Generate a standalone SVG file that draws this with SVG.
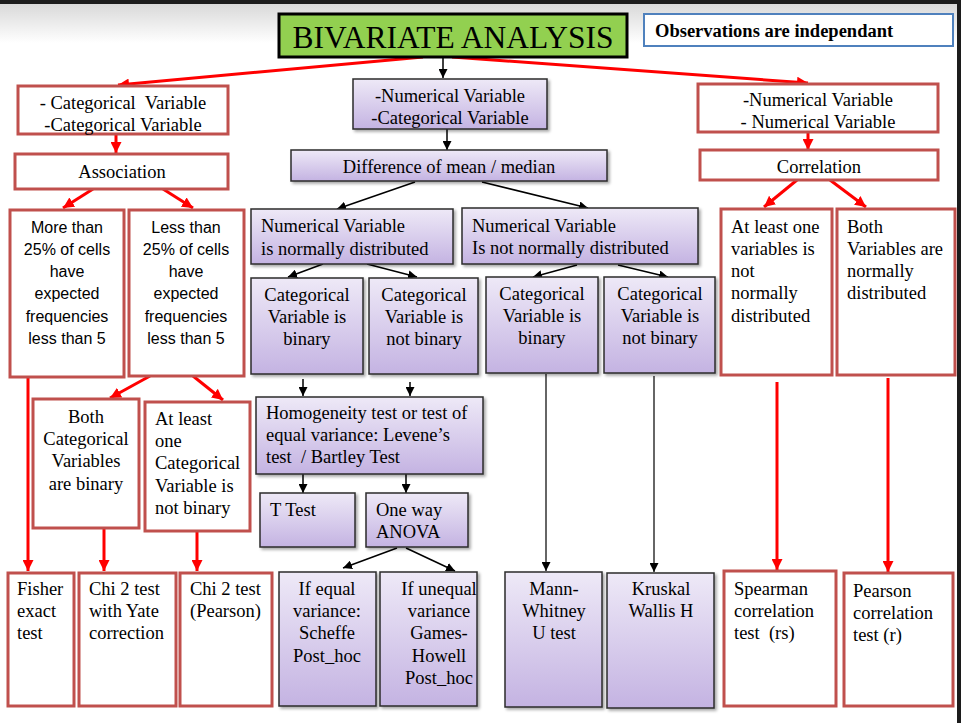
<svg xmlns="http://www.w3.org/2000/svg" width="961" height="723" viewBox="0 0 961 723">
<defs>
<linearGradient id="pg" x1="0" y1="0" x2="0" y2="1">
<stop offset="0" stop-color="#EEE9F7"/>
<stop offset="1" stop-color="#C4B3E2"/>
</linearGradient>
<linearGradient id="bg" x1="0" y1="0" x2="0" y2="1">
<stop offset="0" stop-color="#D8D8D8"/>
<stop offset="1" stop-color="#FFFFFF"/>
</linearGradient>
<filter id="sh" x="-10%" y="-10%" width="130%" height="130%">
<feDropShadow dx="2" dy="2" stdDeviation="1.5" flood-color="#000" flood-opacity="0.35"/>
</filter>
<marker id="rh" viewBox="0 0 10 10" refX="10" refY="5" markerWidth="11" markerHeight="11" markerUnits="userSpaceOnUse" orient="auto">
<path d="M0,0 L10,5 L0,10 z" fill="#FF0000"/>
</marker>
<marker id="bh" viewBox="0 0 10 10" refX="10" refY="5" markerWidth="9" markerHeight="9" markerUnits="userSpaceOnUse" orient="auto">
<path d="M0,0 L10,5 L0,10 z" fill="#000"/>
</marker>
<style>
text{white-space:pre}
.rb{fill:#fff;stroke:#C0504D;stroke-width:3}
.pb{fill:url(#pg);stroke:#2b2b2b;stroke-width:1.5;filter:url(#sh)}
.s{font-family:"Liberation Serif",serif;font-size:18.5px;fill:#000}
.c{font-family:"Liberation Sans",sans-serif;font-size:16px;fill:#000}
.m{text-anchor:middle}
.ra{stroke:#FF0000;stroke-width:3;fill:none;marker-end:url(#rh)}
.ba{stroke:#000;stroke-width:1.5;fill:none;marker-end:url(#bh)}
.ga{stroke:#333;stroke-width:1.5;fill:none;marker-end:url(#bh)}
</style>
</defs>

<rect x="0" y="0" width="961" height="723" fill="#fff"/>
<rect x="0" y="3" width="961" height="40" fill="url(#bg)"/>
<rect x="0" y="0" width="961" height="4" fill="#1c1c1c"/>
<rect x="957" y="0" width="4" height="723" fill="#1c1c1c"/>

<g id="connectors">
<line class="ra" x1="423" y1="57" x2="118" y2="85"/>
<line class="ra" x1="452" y1="57" x2="808" y2="83"/>
<line class="ba" x1="443" y1="57" x2="443" y2="78"/>
<line class="ra" x1="116" y1="135" x2="116" y2="153"/>
<line class="ra" x1="93" y1="189" x2="63" y2="208"/>
<line class="ra" x1="163" y1="189" x2="193" y2="208"/>
<line class="ra" x1="28" y1="377" x2="28" y2="571"/>
<line class="ra" x1="150" y1="376" x2="110" y2="398"/>
<line class="ra" x1="193" y1="376" x2="223" y2="400"/>
<line class="ra" x1="104" y1="529" x2="104" y2="571"/>
<line class="ra" x1="197" y1="532" x2="197" y2="571"/>
<line class="ba" x1="447" y1="129" x2="447" y2="150"/>
<line class="ba" x1="415" y1="182" x2="337" y2="209"/>
<line class="ba" x1="482" y1="182" x2="588" y2="208"/>
<line class="ba" x1="323" y1="264" x2="288" y2="277"/>
<line class="ba" x1="367" y1="264" x2="417" y2="277"/>
<line class="ba" x1="577" y1="265" x2="533" y2="277"/>
<line class="ba" x1="618" y1="265" x2="668" y2="277"/>
<line class="ba" x1="303" y1="379" x2="303" y2="396"/>
<line class="ba" x1="410" y1="382" x2="410" y2="396"/>
<line class="ba" x1="303" y1="474" x2="303" y2="493"/>
<line class="ba" x1="406" y1="474" x2="406" y2="493"/>
<line class="ba" x1="397" y1="548" x2="343" y2="568"/>
<line class="ba" x1="406" y1="548" x2="455" y2="571"/>
<line class="ga" x1="546" y1="374" x2="546" y2="571"/>
<line class="ga" x1="654" y1="376" x2="654" y2="572"/>
<line class="ra" x1="808" y1="133" x2="808" y2="150"/>
<line class="ra" x1="797" y1="180" x2="764" y2="207"/>
<line class="ra" x1="830" y1="180" x2="866" y2="207"/>
<line class="ra" x1="777" y1="382" x2="777" y2="570"/>
<line class="ra" x1="888" y1="378" x2="888" y2="572"/>
</g>

<g id="title">
<rect x="279" y="14" width="348" height="43" fill="#92D050" stroke="#000" stroke-width="3"/>
<text class="m" x="453" y="48" font-family="Liberation Serif, serif" font-size="31.5" fill="#000">BIVARIATE ANALYSIS</text>
</g>
<g id="observations">
<rect x="644" y="14" width="309" height="32" fill="#fff" stroke="#4F81BD" stroke-width="2"/>
<text x="655" y="37" font-family="Liberation Serif, serif" font-size="18.5" font-weight="bold" fill="#000">Observations are independant</text>
</g>

<g id="catcat">
<rect class="rb" x="18" y="86" width="210" height="48"/>
<text class="s m" x="123"><tspan x="123" y="109">- Categorical  Variable</tspan><tspan x="123" y="131">-Categorical Variable</tspan></text>
</g>
<g id="association">
<rect class="rb" x="15" y="154" width="213" height="35"/>
<text class="s m" x="122" y="178">Association</text>
</g>
<g id="more25">
<rect class="rb" x="10" y="210" width="114" height="167"/>
<text class="c m"><tspan x="67" y="233">More than</tspan><tspan x="67" y="255">25% of cells</tspan><tspan x="67" y="277">have</tspan><tspan x="67" y="299">expected</tspan><tspan x="67" y="322">frequencies</tspan><tspan x="67" y="344">less than 5</tspan></text>
</g>
<g id="less25">
<rect class="rb" x="129" y="210" width="115" height="166"/>
<text class="c m"><tspan x="186" y="233">Less than</tspan><tspan x="186" y="255">25% of cells</tspan><tspan x="186" y="277">have</tspan><tspan x="186" y="299">expected</tspan><tspan x="186" y="322">frequencies</tspan><tspan x="186" y="344">less than 5</tspan></text>
</g>
<g id="bothbinary">
<rect class="rb" x="33" y="399" width="106" height="129"/>
<text class="s m"><tspan x="86" y="423">Both</tspan><tspan x="86" y="445">Categorical</tspan><tspan x="86" y="467">Variables</tspan><tspan x="86" y="490">are binary</tspan></text>
</g>
<g id="atleastnotbinary">
<rect class="rb" x="145" y="402" width="105" height="129"/>
<text class="s"><tspan x="155" y="425">At least</tspan><tspan x="155" y="447">one</tspan><tspan x="155" y="469">Categorical</tspan><tspan x="155" y="492">Variable is</tspan><tspan x="155" y="514">not binary</tspan></text>
</g>
<g id="fisher">
<rect class="rb" x="8" y="573" width="66" height="133"/>
<text class="s"><tspan x="17" y="595">Fisher</tspan><tspan x="17" y="617">exact</tspan><tspan x="17" y="639">test</tspan></text>
</g>
<g id="chiyate">
<rect class="rb" x="79" y="573" width="97" height="133"/>
<text class="s"><tspan x="89" y="595">Chi 2 test</tspan><tspan x="89" y="617">with Yate</tspan><tspan x="89" y="639">correction</tspan></text>
</g>
<g id="chipearson">
<rect class="rb" x="180" y="573" width="92" height="133"/>
<text class="s"><tspan x="190" y="595">Chi 2 test</tspan><tspan x="190" y="617">(Pearson)</tspan></text>
</g>

<g id="numcat">
<rect class="pb" x="353" y="79" width="194" height="50"/>
<text class="s m"><tspan x="450" y="102">-Numerical Variable</tspan><tspan x="450" y="124">-Categorical Variable</tspan></text>
</g>
<g id="difference">
<rect class="pb" x="291" y="150" width="316" height="31"/>
<text class="s m" x="449" y="173">Difference of mean / median</text>
</g>
<g id="normal">
<rect class="pb" x="251" y="209" width="202" height="55"/>
<text class="s"><tspan x="261" y="232">Numerical Variable</tspan><tspan x="261" y="255">is normally distributed</tspan></text>
</g>
<g id="notnormal">
<rect class="pb" x="462" y="208" width="236" height="56"/>
<text class="s"><tspan x="472" y="232">Numerical Variable</tspan><tspan x="472" y="254">Is not normally distributed</tspan></text>
</g>
<g id="binary1">
<rect class="pb" x="251" y="278" width="112" height="96"/>
<text class="s m"><tspan x="307" y="301">Categorical</tspan><tspan x="307" y="323">Variable is</tspan><tspan x="307" y="345">binary</tspan></text>
</g>
<g id="notbinary1">
<rect class="pb" x="369" y="278" width="109" height="96"/>
<text class="s m"><tspan x="424" y="301">Categorical</tspan><tspan x="424" y="323">Variable is</tspan><tspan x="424" y="345">not binary</tspan></text>
</g>
<g id="binary2">
<rect class="pb" x="486" y="277" width="112" height="96"/>
<text class="s m"><tspan x="542" y="300">Categorical</tspan><tspan x="542" y="322">Variable is</tspan><tspan x="542" y="344">binary</tspan></text>
</g>
<g id="notbinary2">
<rect class="pb" x="604" y="277" width="111" height="96"/>
<text class="s m"><tspan x="660" y="300">Categorical</tspan><tspan x="660" y="322">Variable is</tspan><tspan x="660" y="344">not binary</tspan></text>
</g>
<g id="homogeneity">
<rect class="pb" x="256" y="397" width="227" height="77"/>
<text class="s"><tspan x="266" y="419">Homogeneity test or test of</tspan><tspan x="266" y="441">equal variance: Levene’s</tspan><tspan x="266" y="463">test  / Bartley Test</tspan></text>
</g>
<g id="ttest">
<rect class="pb" x="260" y="493" width="95" height="54"/>
<text class="s" x="270" y="516">T Test</text>
</g>
<g id="anova">
<rect class="pb" x="366" y="493" width="102" height="54"/>
<text class="s"><tspan x="376" y="516">One way</tspan><tspan x="376" y="538">ANOVA</tspan></text>
</g>
<g id="scheffe">
<rect class="pb" x="279" y="572" width="97" height="134"/>
<text class="s m"><tspan x="327" y="595">If equal</tspan><tspan x="327" y="617">variance:</tspan><tspan x="327" y="639">Scheffe</tspan><tspan x="327" y="662">Post_hoc</tspan></text>
</g>
<g id="gameshowell">
<rect class="pb" x="380" y="572" width="97" height="134"/>
<text class="s m"><tspan x="439" y="595">If unequal</tspan><tspan x="439" y="617">variance</tspan><tspan x="439" y="639">Games-</tspan><tspan x="439" y="662">Howell</tspan><tspan x="439" y="684">Post_hoc</tspan></text>
</g>
<g id="mannwhitney">
<rect class="pb" x="505" y="572" width="97" height="135"/>
<text class="s m"><tspan x="554" y="595">Mann-</tspan><tspan x="554" y="617">Whitney</tspan><tspan x="554" y="639">U test</tspan></text>
</g>
<g id="kruskal">
<rect class="pb" x="607" y="573" width="107" height="135"/>
<text class="s m"><tspan x="661" y="595">Kruskal</tspan><tspan x="661" y="617">Wallis H</tspan></text>
</g>

<g id="numnum">
<rect class="rb" x="698" y="84" width="240" height="48"/>
<text class="s m"><tspan x="818" y="106">-Numerical Variable</tspan><tspan x="818" y="128">- Numerical Variable</tspan></text>
</g>
<g id="correlation">
<rect class="rb" x="700" y="150" width="238" height="30"/>
<text class="s m" x="819" y="173">Correlation</text>
</g>
<g id="notnormalvars">
<rect class="rb" x="721" y="209" width="111" height="166"/>
<text class="s"><tspan x="731" y="233">At least one</tspan><tspan x="731" y="255">variables is</tspan><tspan x="731" y="277">not</tspan><tspan x="731" y="299">normally</tspan><tspan x="731" y="322">distributed</tspan></text>
</g>
<g id="normalvars">
<rect class="rb" x="837" y="209" width="118" height="166"/>
<text class="s"><tspan x="847" y="233">Both</tspan><tspan x="847" y="255">Variables are</tspan><tspan x="847" y="277">normally</tspan><tspan x="847" y="299">distributed</tspan></text>
</g>
<g id="spearman">
<rect class="rb" x="724" y="571" width="112" height="135"/>
<text class="s"><tspan x="734" y="595">Spearman</tspan><tspan x="734" y="617">correlation</tspan><tspan x="734" y="639">test  (rs)</tspan></text>
</g>
<g id="pearson">
<rect class="rb" x="844" y="573" width="109" height="133"/>
<text class="s"><tspan x="853" y="597">Pearson</tspan><tspan x="853" y="619">correlation</tspan><tspan x="853" y="641">test (r)</tspan></text>
</g>
</svg>
